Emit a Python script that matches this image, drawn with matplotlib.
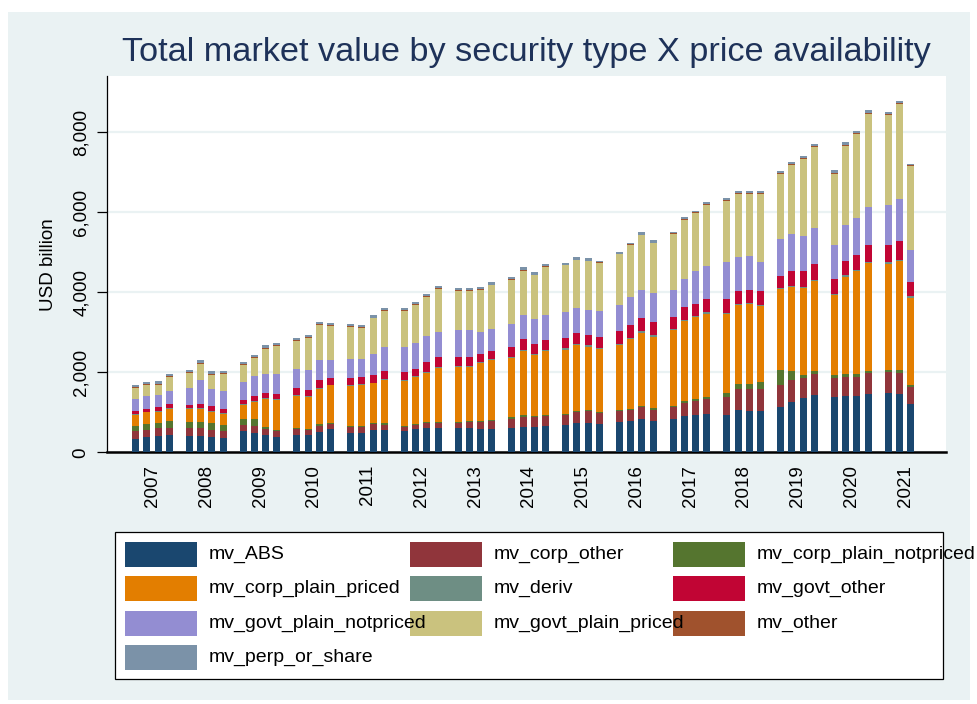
import matplotlib
matplotlib.use("Agg")
import matplotlib.pyplot as plt
from matplotlib.patches import Rectangle
from matplotlib.ticker import FuncFormatter
import numpy as np

plt.rcParams['font.family'] = ['Liberation Sans', 'DejaVu Sans']

# quarterly periods, 2007q1 .. 2021q3
years = list(range(2007, 2022))
periods = [(y, q) for y in years for q in range(1, 5)][:-1]

# USD billion, one value per quarter
mv_ABS = [335, 385, 410, 435, 410, 410, 385, 365, 535, 485, 435, 385, 435, 435, 510, 575,
          485, 485, 565, 565, 535, 585, 615, 615, 615, 615, 590, 590, 615, 635, 635, 665,
          685, 735, 735, 710, 765, 785, 835, 785, 835, 910, 935, 960, 935, 1060, 1035, 1035,
          1135, 1265, 1360, 1435, 1385, 1410, 1410, 1465, 1485, 1465, 1210]
mv_corp_other = [200, 175, 210, 185, 210, 210, 175, 165, 150, 175, 150, 150, 150, 125, 160, 135,
                 160, 160, 135, 125, 110, 110, 125, 125, 125, 150, 175, 190, 225, 260, 240, 250,
                 250, 265, 290, 265, 265, 285, 300, 285, 300, 335, 350, 375, 450, 525, 550, 550,
                 550, 540, 500, 525, 475, 475, 475, 515, 525, 515, 425]
mv_corp_plain_notpriced = [125, 150, 115, 165, 140, 140, 175, 150, 150, 175, 40, 25, 25, 25, 35, 25,
                           25, 25, 35, 35, 25, 25, 25, 25, 25, 25, 25, 20, 40, 40, 40, 25,
                           35, 35, 35, 35, 35, 25, 25, 35, 35, 50, 50, 50, 90, 125, 125, 175,
                           375, 225, 75, 75, 75, 75, 75, 50, 50, 75, 50]
mv_corp_plain_priced = [275, 290, 285, 310, 325, 335, 285, 290, 350, 435, 710, 750, 810, 800, 885, 940,
                        985, 1010, 990, 1085, 1115, 1160, 1215, 1350, 1360, 1340, 1435, 1510, 1490, 1610, 1515, 1590,
                        1600, 1650, 1585, 1575, 1625, 1735, 1835, 1790, 1885, 1990, 2040, 2085, 1990, 1975, 2000, 1900,
                        2025, 2100, 2175, 2250, 2000, 2435, 2565, 2700, 2660, 2725, 2185]
mv_deriv = [20, 20, 20, 20, 20, 20, 20, 20, 20, 20, 20, 20, 20, 20, 20, 20,
            20, 20, 20, 20, 20, 20, 20, 20, 25, 25, 25, 25, 25, 25, 25, 25,
            30, 30, 30, 30, 30, 30, 30, 30, 30, 30, 30, 30, 30, 30, 30, 30,
            30, 30, 30, 30, 30, 30, 30, 30, 30, 30, 30]
mv_govt_other = [75, 60, 90, 100, 75, 90, 115, 85, 100, 115, 125, 125, 165, 150, 200, 160,
                 185, 185, 185, 210, 200, 185, 250, 240, 235, 225, 215, 200, 240, 265, 265, 265,
                 265, 275, 265, 275, 315, 335, 340, 340, 310, 315, 300, 335, 340, 325, 325, 350,
                 300, 375, 400, 400, 375, 365, 385, 425, 440, 475, 365]
mv_govt_plain_notpriced = [300, 325, 310, 315, 425, 600, 425, 450, 450, 500, 475, 500, 475, 500, 500, 450,
                           475, 450, 535, 590, 625, 650, 660, 625, 675, 675, 540, 550, 575, 610, 615, 615,
                           650, 625, 625, 650, 650, 700, 700, 725, 675, 700, 825, 825, 925, 850, 850, 725,
                           925, 925, 875, 900, 850, 900, 925, 950, 1000, 1050, 800]
mv_govt_plain_priced = [290, 290, 250, 350, 375, 415, 365, 435, 425, 460, 635, 700, 710, 810, 875, 850,
                        810, 785, 885, 915, 900, 950, 975, 1085, 985, 985, 1065, 1090, 1110, 1100, 1090, 1200,
                        1160, 1185, 1210, 1190, 1265, 1285, 1360, 1235, 1385, 1490, 1450, 1535, 1535, 1560, 1550, 1685,
                        1615, 1735, 1910, 2025, 1775, 1975, 2100, 2335, 2235, 2375, 2085]
mv_other = [20, 20, 20, 20, 20, 20, 20, 20, 20, 20, 20, 20, 20, 20, 20, 20,
            20, 20, 20, 20, 20, 20, 20, 20, 20, 20, 20, 20, 20, 20, 20, 20,
            20, 20, 20, 20, 20, 20, 20, 20, 20, 20, 20, 20, 25, 25, 25, 25,
            25, 25, 25, 25, 25, 25, 25, 25, 25, 25, 25]
mv_perp_or_share = [55, 45, 65, 55, 55, 65, 65, 65, 55, 55, 65, 55, 45, 55, 65, 65,
                    45, 45, 65, 55, 55, 55, 65, 55, 55, 45, 45, 55, 55, 65, 55, 55,
                    40, 65, 65, 45, 45, 45, 55, 55, 45, 45, 45, 55, 45, 70, 55, 55,
                    65, 45, 55, 45, 65, 65, 55, 65, 65, 55, 45]

series = [
    ("mv_ABS", mv_ABS, "#1a476f"),
    ("mv_corp_other", mv_corp_other, "#90353b"),
    ("mv_corp_plain_notpriced", mv_corp_plain_notpriced, "#55752f"),
    ("mv_corp_plain_priced", mv_corp_plain_priced, "#e37e00"),
    ("mv_deriv", mv_deriv, "#6e8e84"),
    ("mv_govt_other", mv_govt_other, "#c10534"),
    ("mv_govt_plain_notpriced", mv_govt_plain_notpriced, "#938dd2"),
    ("mv_govt_plain_priced", mv_govt_plain_priced, "#cac27e"),
    ("mv_other", mv_other, "#a0522d"),
    ("mv_perp_or_share", mv_perp_or_share, "#7b92a8"),
]

W, H = 978, 704
bg = "#eaf2f3"
fig = plt.figure(figsize=(W / 100, H / 100), dpi=100, facecolor="white")
fig.add_artist(Rectangle((8 / W, 4 / H), 962 / W, 688 / H, transform=fig.transFigure,
                         facecolor=bg, edgecolor="none", zorder=-10))

ax = fig.add_axes([107 / W, 1 - 452.3 / H, (946 - 107) / W, (452.3 - 76) / H])
ax.set_facecolor("white")

# bar positions: one slot per quarter, wider gap between years
group = 53.75 / 11.25
x = np.array([years.index(y) * group + (q - 1) for y, q in periods])

bottom = np.zeros(len(x))
for name, vals, col in series:
    ax.bar(x, vals, width=0.62, bottom=bottom, color=col, linewidth=0, zorder=3)
    bottom += np.array(vals)

ax.set_xlim(-2.55, 72.03)
ax.set_ylim(0, 9408)
ax.set_yticks([0, 2000, 4000, 6000, 8000])
ax.yaxis.set_major_formatter(FuncFormatter(lambda v, p: f"{int(v):,}"))
ax.tick_params(axis="y", labelsize=13.5, length=7.5, width=0.9, labelrotation=90, pad=5)
for lab in ax.get_yticklabels():
    lab.set_va("center")
ax.set_xticks([i * group + 1.5 for i in range(len(years))])
ax.set_xticklabels([str(y) for y in years], rotation=90, fontsize=13.5)
ax.tick_params(axis="x", length=0, pad=9)
ax.grid(axis="y", color=bg, linewidth=1.6, zorder=0)
ax.set_axisbelow(True)
for s in ["top", "right"]:
    ax.spines[s].set_visible(False)
ax.spines["left"].set_linewidth(0.9)
ax.spines["bottom"].set_linewidth(1.8)
ax.set_ylabel("USD billion", fontsize=13.5, labelpad=11)

ax.set_title("Total market value by security type X price availability",
             fontsize=24.7, color="#1e3259", pad=11)

# legend drawn as a boxed 3-column key
fig.add_artist(Rectangle((115 / W, 1 - 679 / H), (943 - 115) / W, (679 - 532) / H,
                         transform=fig.transFigure, facecolor="white",
                         edgecolor="black", linewidth=0.9, zorder=1))
col_x = [125, 410, 673]
row_y = [542, 576, 611, 645]
for i, (name, vals, col) in enumerate(series):
    r, c = divmod(i, 3)
    x0, y0 = col_x[c], row_y[r]
    fig.add_artist(Rectangle((x0 / W, 1 - (y0 + 25) / H), 72 / W, 25 / H,
                             transform=fig.transFigure, facecolor=col,
                             edgecolor="none", zorder=2))
    fig.text((x0 + 84) / W, 1 - (y0 + 12.5) / H, name, fontsize=14.0,
             va="center", ha="left", zorder=3)

fig.savefig("out.png", dpi=100, facecolor="white")
